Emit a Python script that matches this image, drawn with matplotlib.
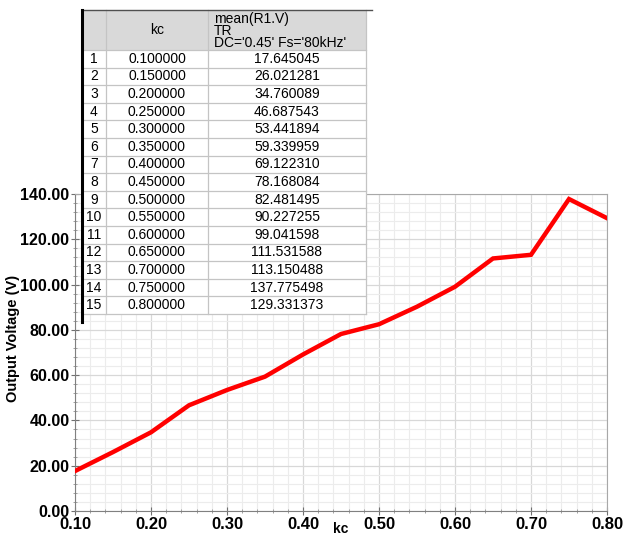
import numpy as np
import matplotlib.pyplot as plt
from matplotlib.patches import Rectangle
from matplotlib.ticker import MultipleLocator

plt.rcParams['font.family'] = ['Liberation Sans', 'DejaVu Sans']

kc = [0.10, 0.15, 0.20, 0.25, 0.30, 0.35, 0.40, 0.45, 0.50, 0.55, 0.60, 0.65, 0.70, 0.75, 0.80]
vout = [17.645045, 26.021281, 34.760089, 46.687543, 53.441894, 59.339959, 69.122310, 78.168084,
        82.481495, 90.227255, 99.041598, 111.531588, 113.150488, 137.775498, 129.331373]
header = ['', 'kc', "mean(R1.V)\nTR\nDC='0.45' Fs='80kHz'"]
xticks = [0.1, 0.2, 0.3, 0.4, 0.5, 0.6, 0.7, 0.8]
yticks = [0, 20, 40, 60, 80, 100, 120, 140]

fig = plt.figure(figsize=(6.24, 5.35), dpi=100)
ax = fig.add_axes([75 / 624, 1 - 511 / 535, 532 / 624, 317 / 535])

ax.plot(kc, vout, color='#ff0000', lw=3.2, solid_joinstyle='miter', zorder=3)
ax.set_xlim(0.1, 0.8)
ax.set_ylim(0, 140)
ax.set_xticks(xticks)
ax.set_yticks(yticks)
ax.set_xticklabels(['%.2f' % t for t in xticks], fontweight='bold', fontsize=12)
ax.set_yticklabels(['%.2f' % t for t in yticks], fontweight='bold', fontsize=11.5)
ax.xaxis.set_minor_locator(MultipleLocator(0.02))
ax.yaxis.set_minor_locator(MultipleLocator(4))
ax.grid(which='major', color='#d8d8d8', lw=0.9)
ax.grid(which='minor', color='#ececec', lw=0.8)
ax.tick_params(which='major', direction='inout', length=6, color='#707070', pad=1)
ax.tick_params(which='minor', direction='inout', length=3, color='#909090')
for s in ax.spines.values():
    s.set_color('#a8a8a8')
ax.spines['left'].set_color('#808080')
ax.spines['bottom'].set_color('#808080')
# axis titles placed by hand to stay inside the canvas
fig.text(13 / 624, 1 - 338 / 535, 'Output Voltage (V)', ha='center', va='center', rotation=90,
         fontweight='bold', fontsize=10.5)
fig.text(341 / 624, 2 / 535, 'kc', ha='center', va='baseline', fontweight='bold', fontsize=10)

# table overlay, in pixel coordinates
tx = fig.add_axes([0, 0, 1, 1])
tx.set_xlim(0, 624)
tx.set_ylim(535, 0)
tx.axis('off')

cols = [82, 106, 208, 366]
top, head_bot, row_h = 10, 50, 17.6
n = len(kc)
bottom = head_bot + n * row_h

tx.add_patch(Rectangle((cols[0], top), cols[-1] - cols[0], bottom - top, facecolor='white', edgecolor='none'))
tx.add_patch(Rectangle((cols[0], top), cols[-1] - cols[0], head_bot - top, facecolor='#d9d9d9', edgecolor='none'))
for c in cols[1:]:
    tx.plot([c, c], [top, bottom], color='#c4c4c4', lw=0.9)
for i in range(n + 1):
    y = head_bot + i * row_h
    tx.plot([cols[0], cols[-1]], [y, y], color='#c4c4c4', lw=0.9)
tx.plot([cols[0], 372], [top, top], color='#505050', lw=1.0)
tx.plot([cols[0], cols[0]], [top, 322], color='black', lw=2.2)

tx.text((cols[1] + cols[2]) / 2, (top + head_bot) / 2, header[1], ha='center', va='center', fontsize=10)
tx.text(cols[2] + 6, (top + head_bot) / 2 + 1, header[2], ha='left', va='center', fontsize=10, linespacing=0.8)
for i in range(n):
    yc = head_bot + (i + 0.5) * row_h
    tx.text((cols[0] + cols[1]) / 2, yc, str(i + 1), ha='center', va='center', fontsize=10)
    tx.text((cols[1] + cols[2]) / 2, yc, '%.6f' % kc[i], ha='center', va='center', fontsize=10)
    tx.text((cols[2] + cols[3]) / 2, yc, '%.6f' % vout[i], ha='center', va='center', fontsize=10)

fig.savefig('out.png', dpi=100)
